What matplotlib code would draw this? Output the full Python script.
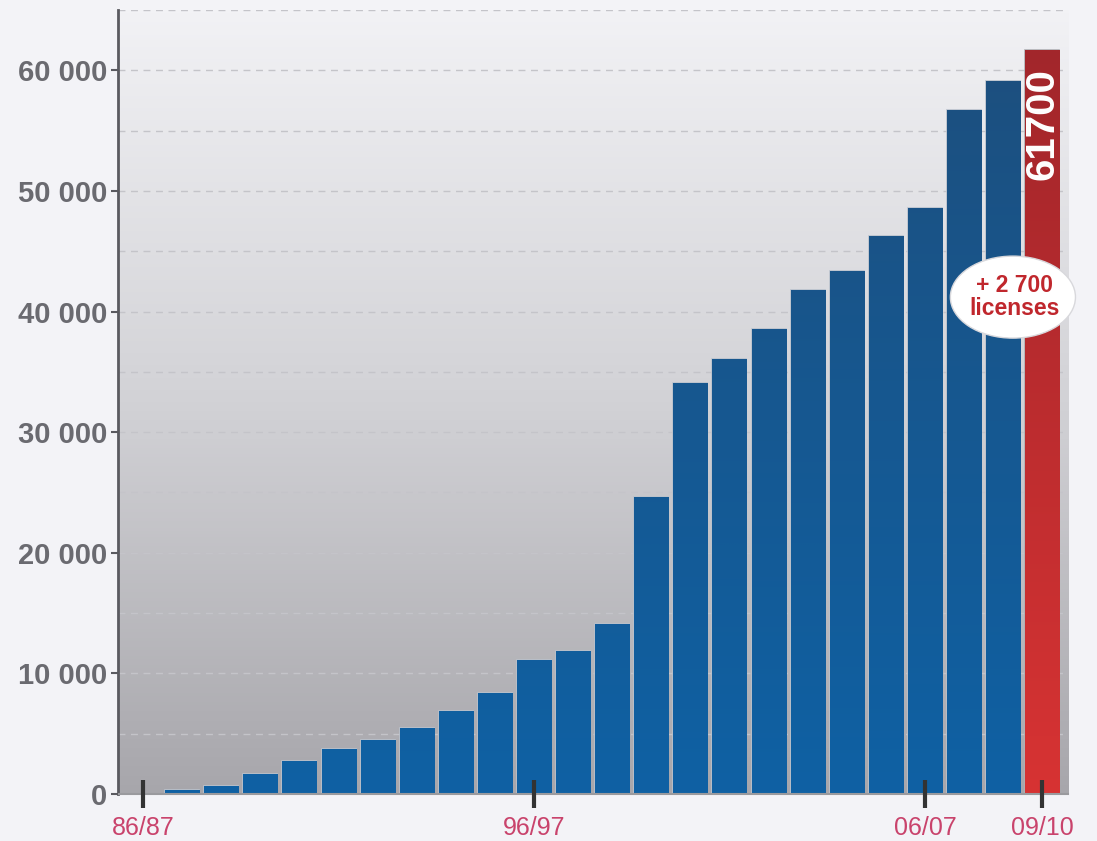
import numpy as np
import matplotlib
matplotlib.use("Agg")
import matplotlib.pyplot as plt
from matplotlib.patches import Ellipse

# licences per season, 86/87 .. 09/10
seasons = ["86/87", "87/88", "88/89", "89/90", "90/91", "91/92", "92/93", "93/94",
           "94/95", "95/96", "96/97", "97/98", "98/99", "99/00", "00/01", "01/02",
           "02/03", "03/04", "04/05", "05/06", "06/07", "07/08", "08/09", "09/10"]
licenses = [0, 300, 700, 1650, 2700, 3700, 4500, 5450, 6900, 8350, 11100, 11850,
            14100, 24600, 34050, 36050, 38550, 41750, 43350, 46250, 48550, 56700,
            59100, 61700]
labelled = ["86/87", "96/97", "06/07", "09/10"]
gain_text = "+ 2 700\nlicenses"

BG = "#f3f3f7"
plt.rcParams["font.family"] = ["Liberation Sans", "DejaVu Sans"]

fig = plt.figure(figsize=(10.97, 8.41), dpi=100, facecolor=BG)
ax = fig.add_axes([0.1076, 0.0559, 0.8660, 0.9321])
ax.set_xlim(-0.64, 23.66)
ax.set_ylim(0, 65000)

# background gradient of the plot area
bg = np.linspace(0, 1, 256).reshape(-1, 1)
bg_cmap = matplotlib.colors.LinearSegmentedColormap.from_list("bg", ["#a7a6ab", "#d2d2d6", "#f2f2f5"])
ax.imshow(bg, cmap=bg_cmap, origin="lower", aspect="auto",
          extent=[-0.64, 23.66, 0, 65000], zorder=0)

for yv in np.arange(5000, 65001, 5000):
    ax.axhline(yv, color="#c4c4c9", lw=1, ls=(0, (5, 4)), zorder=1)

x = np.arange(len(seasons))
blue = matplotlib.colors.LinearSegmentedColormap.from_list("blue", ["#0f61a4", "#1d4f7e"])
red = matplotlib.colors.LinearSegmentedColormap.from_list("red", ["#d73333", "#a2262b"])
grad = np.linspace(0, 1, 256).reshape(-1, 1)
bars = ax.bar(x, licenses, width=0.87, color="#15579a", edgecolor="#b9c1cc",
              linewidth=1.2, zorder=2)
for i, b in enumerate(bars):
    h = licenses[i]
    if h <= 0:
        continue
    cm = red if i == len(bars) - 1 else blue
    im = ax.imshow(grad * h / 62000 if cm is blue else grad, cmap=cm, origin="lower",
                   aspect="auto", vmin=0, vmax=1,
                   extent=[b.get_x(), b.get_x() + b.get_width(), 0, h], zorder=3)
    im.set_clip_path(b)
bars[-1].set_edgecolor("#b0b0b4")

ax.text(x[-1], licenses[-1] - 1500, f"{licenses[-1]}", rotation=90, ha="center",
        va="top", color="white", fontsize=29, fontweight="bold", zorder=5)

ell = Ellipse((22.25, 41200), 3.2, 6800, facecolor="white", edgecolor="#d8d8dc",
              lw=1, zorder=6, clip_on=False)
ax.add_patch(ell)
ax.text(22.3, 41200, gain_text, ha="center", va="center", color="#c0272d",
        fontsize=16.5, fontweight="bold", linespacing=1.0, zorder=7)

# axes styling
for s in ["top", "right"]:
    ax.spines[s].set_visible(False)
ax.spines["left"].set_color("#5a5a60")
ax.spines["left"].set_linewidth(2)
ax.spines["bottom"].set_color("#9a9a9e")
ax.spines["bottom"].set_linewidth(1.5)
for s in ax.spines.values():
    s.set_zorder(8)
ax.xaxis.set_zorder(9)
ax.yaxis.set_zorder(9)

yt = np.arange(0, 60001, 10000)
ax.set_yticks(yt)
ax.set_yticklabels(["0" if v == 0 else f"{v // 1000} 000" for v in yt])
ax.tick_params(axis="y", length=5, width=1.5, color="#5a5a60", pad=3,
               labelsize=21, labelcolor="#6a6a70")
for t in ax.get_yticklabels():
    t.set_fontweight("bold")

xt = [seasons.index(s) for s in labelled]
ax.set_xticks(xt)
ax.set_xticklabels(labelled)
ax.tick_params(axis="x", direction="inout", length=20, width=3, color="#333333",
               pad=6, labelsize=18, labelcolor="#c9436c")

fig.savefig("out.png", dpi=100, facecolor=BG)
